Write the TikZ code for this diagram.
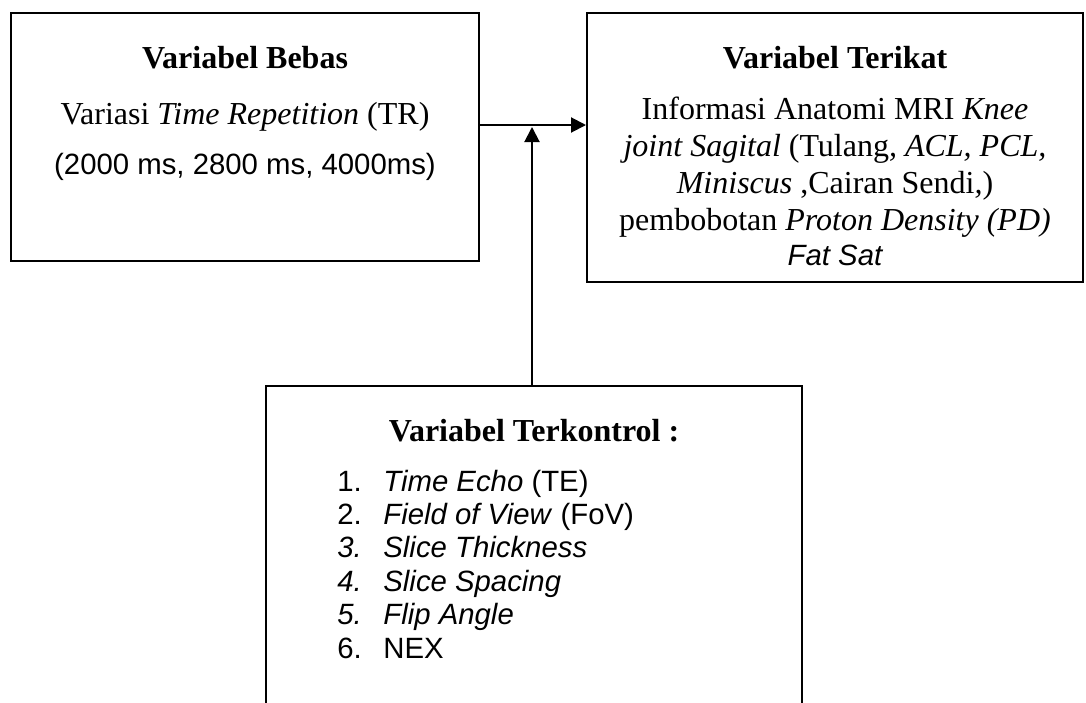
\documentclass[tikz,border=0pt]{standalone}
\usepackage{fontspec}
\setmainfont{Liberation Serif}
\setsansfont{Liberation Sans}
\usetikzlibrary{arrows.meta}
\tikzset{
  box/.style={draw, line width=1pt, inner sep=0pt},
  tl/.style={anchor=base, inner sep=0pt, font=\fontsize{16}{16}\selectfont},
  al/.style={anchor=base, inner sep=0pt, font=\sffamily\fontsize{14.67}{14.67}\selectfont},
  lnum/.style={anchor=base west, inner sep=0pt, font=\sffamily\fontsize{14.67}{14.67}\selectfont},
  arr/.style={line width=1pt, -{Triangle[length=7.5pt,width=7.5pt]}}
}
\begin{document}
\begin{tikzpicture}[x=0.5pt,y=-0.5pt]
\useasboundingbox (0,0) rectangle (1086,702);
\fill[white] (0,0) rectangle (1086,702);
\clip (0,0) rectangle (1086,702);
% boxes
\node[box, minimum width=234pt, minimum height=124pt] (b1) at (245,137) {};
\node[box, minimum width=248pt, minimum height=134.5pt] (b2) at (835,147.5) {};
\node[box, minimum width=268pt, minimum height=167pt] (b3) at (534,553) {};
% box 1 text
\node[tl, font=\bfseries\fontsize{16}{16}\selectfont] (t1) at (245,68) {Variabel Bebas};
\node[tl] (t1a) at (245,124) {Variasi \textit{Time Repetition} (TR)};
\node[al] (t1b) at (245,174) {(2000 ms, 2800 ms, 4000ms)};
% box 2 text
\node[tl, font=\bfseries\fontsize{16}{16}\selectfont] (t2) at (835,68) {Variabel Terikat};
\node[tl] (t2a) at (835,119) {Informasi Anatomi MRI \textit{Knee}};
\node[tl] (t2b) at (835,156) {\textit{joint Sagital} (Tulang\textit{, ACL, PCL,}};
\node[tl] (t2c) at (835,193) {\textit{Miniscus} ,Cairan Sendi\textit{,})};
\node[tl] (t2d) at (835,230) {pembobotan \textit{Proton Density (PD)}};
\node[al, font=\sffamily\itshape\fontsize{14.67}{14.67}\selectfont] (t2e) at (835,265) {Fat Sat};
% box 3 text
\node[tl, font=\bfseries\fontsize{16}{16}\selectfont] (t3) at (534,441) {Variabel Terkontrol :};
\node[lnum] (n1) at (337,491) {1.};
\node[lnum] (n2) at (337,524) {2.};
\node[lnum, font=\sffamily\itshape\fontsize{14.67}{14.67}\selectfont] (n3) at (337,557.5) {3.};
\node[lnum, font=\sffamily\itshape\fontsize{14.67}{14.67}\selectfont] (n4) at (337,591) {4.};
\node[lnum, font=\sffamily\itshape\fontsize{14.67}{14.67}\selectfont] (n5) at (337,624.5) {5.};
\node[lnum] (n6) at (337,658) {6.};
\node[lnum] (i1) at (383,491) {\textit{Time Echo} (TE)};
\node[lnum] (i2) at (383,524) {\textit{Field of View} (FoV)};
\node[lnum] (i3) at (383,557.5) {\textit{Slice Thickness}};
\node[lnum] (i4) at (383,591) {\textit{Slice Spacing}};
\node[lnum] (i5) at (383,624.5) {\textit{Flip Angle}};
\node[lnum] (i6) at (383,658) {NEX};
% connectors
\coordinate (j) at (532,125);
\coordinate (jt) at (532,127);
\draw[arr] (b1.east |- j) -- (b2.west |- j);
\draw[arr] (b3.north -| j) -- (jt);
\end{tikzpicture}
\end{document}
